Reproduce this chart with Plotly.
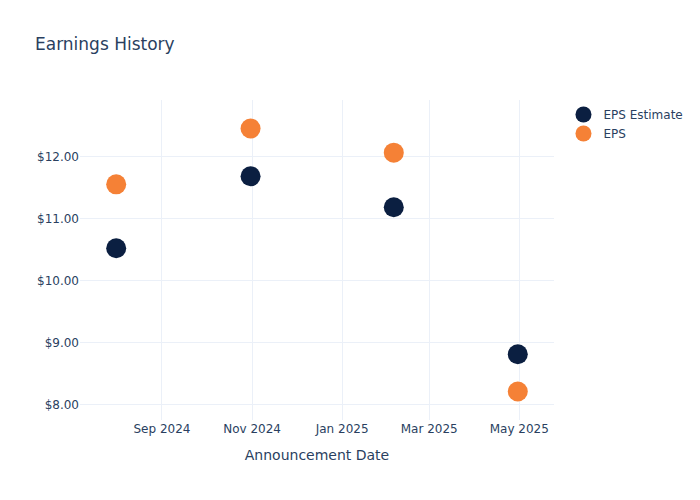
import plotly.graph_objects as go

dates = ["2024-08-01", "2024-10-31", "2025-02-05", "2025-04-30"]
eps_estimate = [10.52, 11.68, 11.18, 8.81]
eps_actual = [11.55, 12.45, 12.06, 8.21]

fig = go.Figure()
fig.add_trace(go.Scatter(x=dates, y=eps_estimate, mode="markers", name="EPS Estimate",
                         marker=dict(color="#0B1F41", size=20)))
fig.add_trace(go.Scatter(x=dates, y=eps_actual, mode="markers", name="EPS",
                         marker=dict(color="#F58136", size=20)))
fig.update_layout(
    template="plotly_white",
    width=700, height=500,
    font=dict(family="DejaVu Sans"),
    title=dict(text="Earnings History"),
    xaxis=dict(title="Announcement Date"),
    yaxis=dict(tickprefix="$", tickformat=".2f"),
)
fig.write_html("out.html", config={"displayModeBar": False},
               post_script="document.body.style.margin='0';")
